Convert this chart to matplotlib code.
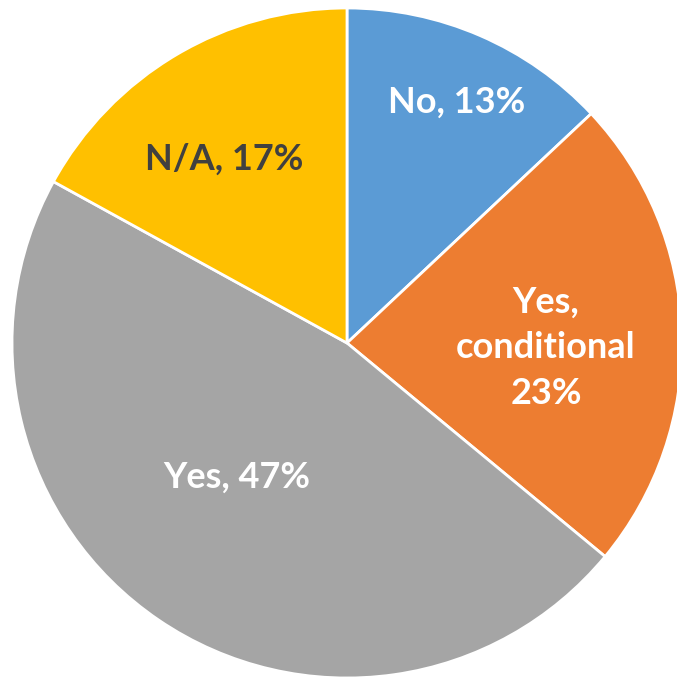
import numpy as np
import matplotlib
matplotlib.use("Agg")
import matplotlib.pyplot as plt

labels = ["No, 13%", "Yes,\nconditional\n23%", "Yes, 47%", "N/A, 17%"]
shares = [13, 23, 47, 17]
colors = ["#5B9BD5", "#ED7D31", "#A5A5A5", "#FFC000"]
text_colors = ["white", "white", "white", "#404040"]
# label anchors as (radius fraction, angle in degrees)
label_pos = [(0.79, 65.5), (0.594, -1.4), (0.52, 230.6), (0.66, 123.7)]

fig = plt.figure(figsize=(6.77, 6.79), dpi=100)
W, H = 677, 679
cx, cy, r = 347, 343, 335
ax = fig.add_axes([(cx - r) / W, (H - cy - r) / H, 2 * r / W, 2 * r / H])

wedges, _ = ax.pie(shares, colors=colors, startangle=90, counterclock=False,
                   radius=1, wedgeprops=dict(edgecolor="white", linewidth=2))

for lab, tc, (d, ang) in zip(labels, text_colors, label_pos):
    a = np.deg2rad(ang)
    ax.text(d * np.cos(a), d * np.sin(a), lab, ha="center", va="center",
            color=tc, fontsize=26, fontweight="bold", family="Lato",
            linespacing=1.45)

ax.set_xlim(-1, 1)
ax.set_ylim(-1, 1)
ax.set_aspect("equal")
ax.axis("off")

fig.savefig("out.png", dpi=100)
